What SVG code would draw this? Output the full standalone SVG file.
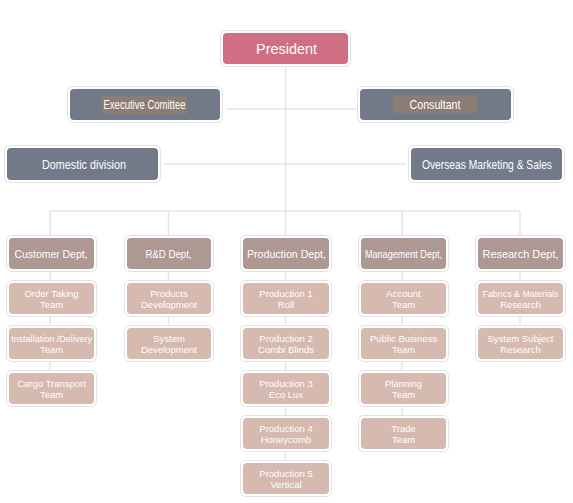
<svg xmlns="http://www.w3.org/2000/svg" width="573" height="503" viewBox="0 0 573 503">
<style>
.frame{fill:#ffffff;stroke:#e2e2e2;stroke-width:1}
.pres{fill:#d06e84}
.top{fill:#727a89}
.dept{fill:#ae9892}
.team{fill:#d6b9af}
.hl{fill:#8b7c74}
.conn{stroke:#e4e4e4;stroke-width:1.5;fill:none}
text{font-family:"Liberation Sans","Noto Sans CJK KR",sans-serif;fill:#ffffff;text-anchor:middle}
.tp{font-size:15.5px}
.tt{font-size:12px}
.td{font-size:11.5px}
.tm{font-size:9.5px}
</style>
<rect width="573" height="503" fill="#ffffff"/>
<g id="connectors">
<line class="conn" x1="285.5" y1="64" x2="285.5" y2="211"/>
<line class="conn" x1="227" y1="109" x2="356" y2="109"/>
<line class="conn" x1="164" y1="164" x2="406" y2="164"/>
<line class="conn" x1="50" y1="211" x2="520" y2="211"/>
<line class="conn" x1="50" y1="211" x2="50" y2="238"/>
<line class="conn" x1="168.5" y1="211" x2="168.5" y2="238"/>
<line class="conn" x1="402" y1="211" x2="402" y2="238"/>
<line class="conn" x1="520" y1="211" x2="520" y2="238"/>
<line class="conn" x1="285.5" y1="211" x2="285.5" y2="238"/>
<line class="conn" x1="50" y1="269" x2="50" y2="374"/>
<line class="conn" x1="168.5" y1="269" x2="168.5" y2="329"/>
<line class="conn" x1="285.5" y1="269" x2="285.5" y2="463"/>
<line class="conn" x1="402" y1="269" x2="402" y2="419"/>
<line class="conn" x1="520" y1="269" x2="520" y2="329"/>
</g>
<g id="president">
<rect class="frame" x="220.5" y="30.5" width="130" height="36" rx="5"/>
<rect class="pres" x="223" y="33" width="125" height="31" rx="4"/>
<text class="tp" x="286.5" y="53.5" textLength="61" lengthAdjust="spacingAndGlyphs">President</text>
</g>
<g id="executive">
<rect class="frame" x="67.5" y="86.5" width="155" height="36" rx="5"/>
<rect class="top" x="70" y="89" width="150" height="31" rx="4"/>
<rect class="hl" x="102" y="96" width="85" height="18"/>
<text class="tt" x="144.5" y="109" textLength="82" lengthAdjust="spacingAndGlyphs">Executive Comittee</text>
</g>
<g id="consultant">
<rect class="frame" x="357.5" y="86.5" width="156" height="36" rx="5"/>
<rect class="top" x="360" y="89" width="151" height="31" rx="4"/>
<rect class="hl" x="393" y="95" width="84" height="18"/>
<text class="tt" x="435" y="108.5" textLength="51" lengthAdjust="spacingAndGlyphs">Consultant</text>
</g>
<g id="domestic">
<rect class="frame" x="4.5" y="145.5" width="156" height="37" rx="5"/>
<rect class="top" x="7" y="148" width="151" height="32" rx="4"/>
<text class="tt" x="84" y="168.5" textLength="84" lengthAdjust="spacingAndGlyphs">Domestic division</text>
</g>
<g id="overseas">
<rect class="frame" x="408.5" y="145.5" width="156" height="37" rx="5"/>
<rect class="top" x="411" y="148" width="151" height="32" rx="4"/>
<text class="tt" x="487" y="168.5" textLength="130" lengthAdjust="spacingAndGlyphs">Overseas Marketing &amp; Sales</text>
</g>
<g id="customer-dept">
<rect class="frame" x="6.5" y="235.5" width="90" height="36" rx="5"/>
<rect class="dept" x="9" y="238" width="85" height="31" rx="4"/>
<text class="td" x="51" y="258" textLength="73" lengthAdjust="spacingAndGlyphs">Customer Dept,</text>
</g>
<g id="rd-dept">
<rect class="frame" x="124.5" y="235.5" width="89" height="36" rx="5"/>
<rect class="dept" x="127" y="238" width="84" height="31" rx="4"/>
<text class="td" x="168.5" y="258" textLength="46" lengthAdjust="spacingAndGlyphs">R&amp;D Dept,</text>
</g>
<g id="production-dept">
<rect class="frame" x="240.5" y="235.5" width="91" height="36" rx="5"/>
<rect class="dept" x="243" y="238" width="86" height="31" rx="4"/>
<text class="td" x="286.5" y="258" textLength="79" lengthAdjust="spacingAndGlyphs">Production Dept,</text>
</g>
<g id="management-dept">
<rect class="frame" x="358.5" y="235.5" width="90" height="36" rx="5"/>
<rect class="dept" x="361" y="238" width="85" height="31" rx="4"/>
<text class="td" x="403.5" y="258" textLength="77" lengthAdjust="spacingAndGlyphs">Management Dept,</text>
</g>
<g id="research-dept">
<rect class="frame" x="475.5" y="235.5" width="90" height="36" rx="5"/>
<rect class="dept" x="478" y="238" width="85" height="31" rx="4"/>
<text class="td" x="520.5" y="258" textLength="76" lengthAdjust="spacingAndGlyphs">Research Dept,</text>
</g>
<g id="order-taking">
<rect class="frame" x="6.5" y="280.5" width="90" height="36" rx="5"/>
<rect class="team" x="9" y="283" width="85" height="31" rx="4"/>
<text class="tm" x="51.5" y="297">Order Taking</text>
<text class="tm" x="51.5" y="308">Team</text>
</g>
<g id="installation">
<rect class="frame" x="6.5" y="325.5" width="90" height="36" rx="5"/>
<rect class="team" x="9" y="328" width="85" height="31" rx="4"/>
<text class="tm" x="51.5" y="342" textLength="81" lengthAdjust="spacingAndGlyphs">Installation /Delivery</text>
<text class="tm" x="51.5" y="353">Team</text>
</g>
<g id="cargo">
<rect class="frame" x="6.5" y="370.5" width="90" height="36" rx="5"/>
<rect class="team" x="9" y="373" width="85" height="31" rx="4"/>
<text class="tm" x="51.5" y="387">Cargo Transport</text>
<text class="tm" x="51.5" y="398">Team</text>
</g>
<g id="products-development">
<rect class="frame" x="124.5" y="280.5" width="89" height="36" rx="5"/>
<rect class="team" x="127" y="283" width="84" height="31" rx="4"/>
<text class="tm" x="169" y="297">Products</text>
<text class="tm" x="169" y="308">Development</text>
</g>
<g id="system-development">
<rect class="frame" x="124.5" y="325.5" width="89" height="36" rx="5"/>
<rect class="team" x="127" y="328" width="84" height="31" rx="4"/>
<text class="tm" x="169" y="342">System</text>
<text class="tm" x="169" y="353">Development</text>
</g>
<g id="production-1">
<rect class="frame" x="240.5" y="280.5" width="91" height="36" rx="5"/>
<rect class="team" x="243" y="283" width="86" height="31" rx="4"/>
<text class="tm" x="286" y="297">Production 1</text>
<text class="tm" x="286" y="308">Roll</text>
</g>
<g id="production-2">
<rect class="frame" x="240.5" y="325.5" width="91" height="36" rx="5"/>
<rect class="team" x="243" y="328" width="86" height="31" rx="4"/>
<text class="tm" x="286" y="342">Production 2</text>
<text class="tm" x="286" y="353">Combi Blinds</text>
</g>
<g id="production-3">
<rect class="frame" x="240.5" y="370.5" width="91" height="36" rx="5"/>
<rect class="team" x="243" y="373" width="86" height="31" rx="4"/>
<text class="tm" x="286" y="387">Production 3</text>
<text class="tm" x="286" y="398">Eco Lux</text>
</g>
<g id="production-4">
<rect class="frame" x="240.5" y="415.5" width="91" height="36" rx="5"/>
<rect class="team" x="243" y="418" width="86" height="31" rx="4"/>
<text class="tm" x="286" y="432">Production 4</text>
<text class="tm" x="286" y="443">Honeycomb</text>
</g>
<g id="production-5">
<rect class="frame" x="240.5" y="460.5" width="91" height="36" rx="5"/>
<rect class="team" x="243" y="463" width="86" height="31" rx="4"/>
<text class="tm" x="286" y="477">Production 5</text>
<text class="tm" x="286" y="488">Vertical</text>
</g>
<g id="account-team">
<rect class="frame" x="358.5" y="280.5" width="90" height="36" rx="5"/>
<rect class="team" x="361" y="283" width="85" height="31" rx="4"/>
<text class="tm" x="403.5" y="297">Account</text>
<text class="tm" x="403.5" y="308">Team</text>
</g>
<g id="public-business-team">
<rect class="frame" x="358.5" y="325.5" width="90" height="36" rx="5"/>
<rect class="team" x="361" y="328" width="85" height="31" rx="4"/>
<text class="tm" x="403.5" y="342">Public Business</text>
<text class="tm" x="403.5" y="353">Team</text>
</g>
<g id="planning-team">
<rect class="frame" x="358.5" y="370.5" width="90" height="36" rx="5"/>
<rect class="team" x="361" y="373" width="85" height="31" rx="4"/>
<text class="tm" x="403.5" y="387">Planning</text>
<text class="tm" x="403.5" y="398">Team</text>
</g>
<g id="trade-team">
<rect class="frame" x="358.5" y="415.5" width="90" height="36" rx="5"/>
<rect class="team" x="361" y="418" width="85" height="31" rx="4"/>
<text class="tm" x="403.5" y="432">Trade</text>
<text class="tm" x="403.5" y="443">Team</text>
</g>
<g id="fabrics-research">
<rect class="frame" x="475.5" y="280.5" width="90" height="36" rx="5"/>
<rect class="team" x="478" y="283" width="85" height="31" rx="4"/>
<text class="tm" x="520.5" y="297" textLength="76" lengthAdjust="spacingAndGlyphs">Fabrics &amp; Materials</text>
<text class="tm" x="520.5" y="308">Research</text>
</g>
<g id="system-subject-research">
<rect class="frame" x="475.5" y="325.5" width="90" height="36" rx="5"/>
<rect class="team" x="478" y="328" width="85" height="31" rx="4"/>
<text class="tm" x="520.5" y="342">System Subject</text>
<text class="tm" x="520.5" y="353">Research</text>
</g>
</svg>
